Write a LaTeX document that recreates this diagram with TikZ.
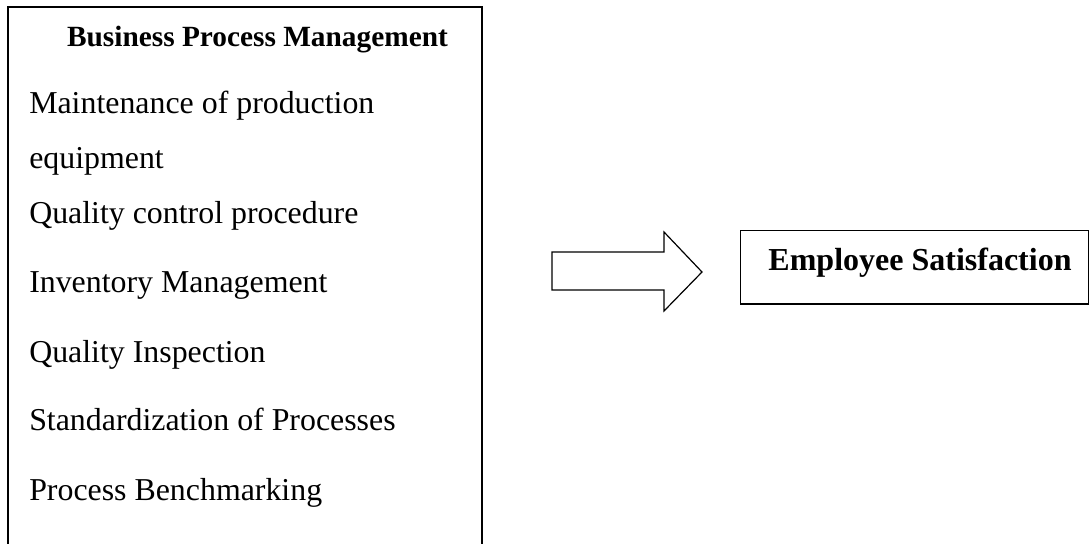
\documentclass[tikz,border=0pt]{standalone}
\usepackage{fontspec}
\setmainfont{Liberation Serif}
\begin{document}
\begin{tikzpicture}[x=0.75pt,y=-0.75pt,
  item/.style={anchor=base west, inner sep=0pt, font=\fontsize{23.9}{28}\selectfont},
  boldtext/.style={anchor=base, inner sep=0pt, font=\bfseries\fontsize{22}{26}\selectfont},
  frame/.style={line width=1.3pt}]
\useasboundingbox (0,0) rectangle (1091,543);
\clip (0,0) rectangle (1091,543);
% left box (open at the bottom)
\coordinate (lb1) at (8,600);
\coordinate (lb2) at (8,7);
\coordinate (lb3) at (482,7);
\coordinate (lb4) at (482,600);
\draw[frame] (lb1) -- (lb2) -- (lb3) -- (lb4);
\node[boldtext] (title) at (257.5,46) {Business Process Management};
\node[item] (i1) at (29,113) {Maintenance of production};
\node[item] (i1b) at (29,168) {equipment};
\node[item] (i2) at (29,223) {Quality control procedure};
\node[item] (i3) at (29,292) {Inventory Management};
\node[item] (i4) at (29,362) {Quality Inspection};
\node[item] (i5) at (29,430) {Standardization of Processes};
\node[item] (i6) at (29,500) {Process Benchmarking};
% block arrow
\coordinate (a1) at (552,252);
\coordinate (a2) at (664,252);
\coordinate (a3) at (664,232);
\coordinate (a4) at (702,272);
\coordinate (a5) at (664,311);
\coordinate (a6) at (664,290);
\coordinate (a7) at (552,290);
\draw[line width=0.9pt, line join=miter] (a1) -- (a2) -- (a3) -- (a4) -- (a5) -- (a6) -- (a7) -- cycle;
% right box
\node[draw, line width=1pt, anchor=north west, minimum width=261pt, minimum height=55pt, inner sep=0pt] (es) at (740,230) {};
\node[boldtext, font=\bfseries\fontsize{24}{28}\selectfont] (estext) at (920,270) {Employee Satisfaction};
\end{tikzpicture}
\end{document}
